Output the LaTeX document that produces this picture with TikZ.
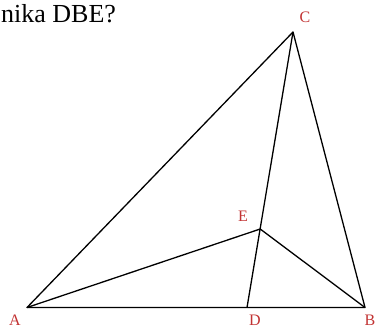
\documentclass[tikz,border=0pt]{standalone}
\usepackage{fontspec}
\setmainfont{Liberation Serif}
\begin{document}
\begin{tikzpicture}[x=1pt,y=-1pt,
  seg/.style={line width=1.3pt,line join=round},
  lbl/.style={text=red!70!black!80,font=\fontsize{16}{16}\selectfont,inner sep=0pt}]
\useasboundingbox (0,0) rectangle (379,330);
\node[anchor=base west,inner sep=0pt,font=\fontsize{26}{26}\selectfont] (t) at (1,22) {nika DBE?};
\coordinate (A) at (27,307.5);
\coordinate (D) at (247,307.5);
\coordinate (B) at (365,307.5);
\coordinate (C) at (293,32);
\coordinate (E) at (260.2,229);
\draw[seg] (A) -- (B) -- (C) -- cycle;
\draw[seg] (C) -- (D);
\draw[seg] (A) -- (E) -- (B);
\node[lbl] (lA) at (15,320) {A};
\node[lbl] (lD) at (255,320) {D};
\node[lbl] (lB) at (370,320) {B};
\node[lbl] (lC) at (305,17) {C};
\node[lbl] (lE) at (243,216) {E};
\end{tikzpicture}
\end{document}
